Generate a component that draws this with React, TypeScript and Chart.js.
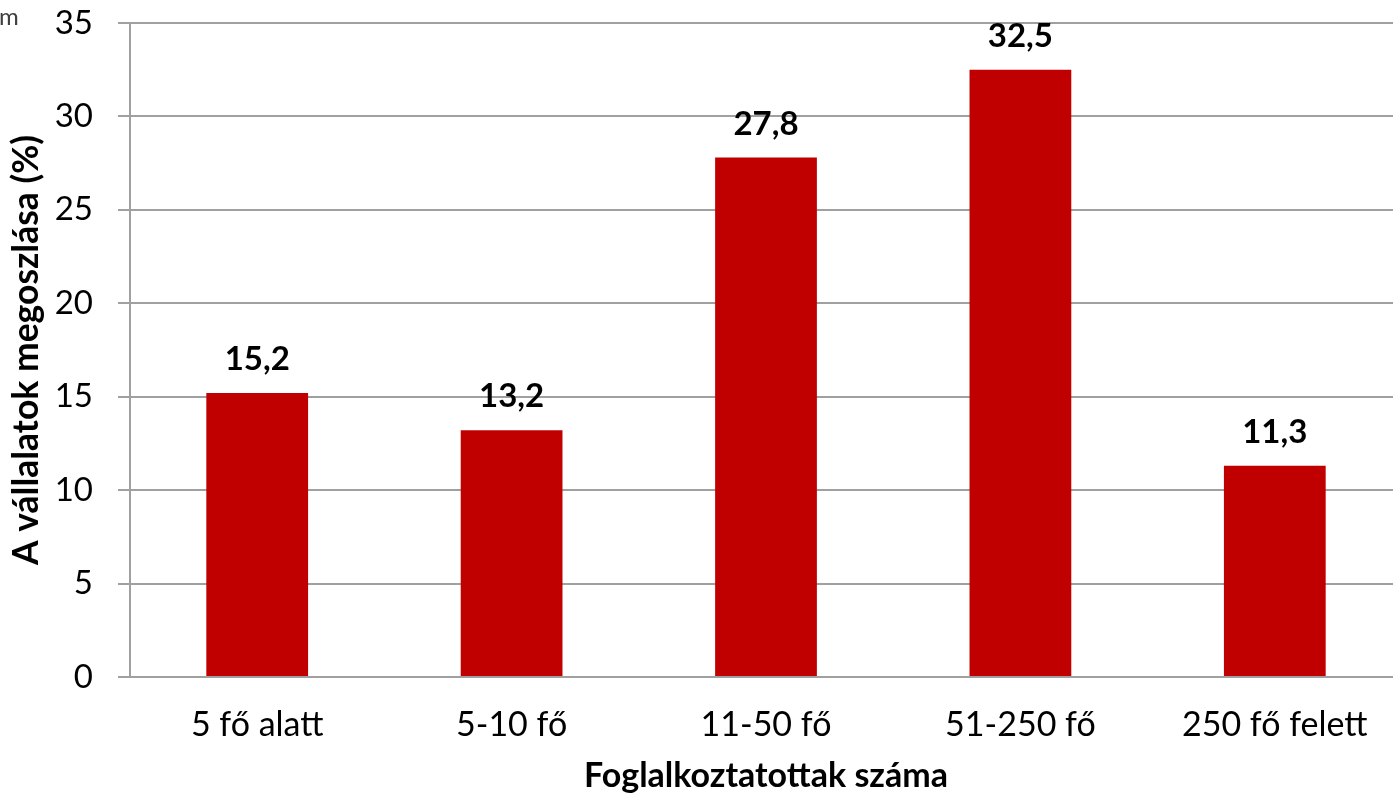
import React, { useEffect, useRef } from 'react';
import { Chart, registerables } from 'chart.js';

Chart.register(...registerables);

const categories = ['5 fő alatt', '5-10 fő', '11-50 fő', '51-250 fő', '250 fő felett'];
const shares = [15.2, 13.2, 27.8, 32.5, 11.3];
const yMin = 0;
const yMax = 35;
const yStep = 5;
const yAxisTitle = 'A vállalatok megoszlása (%)';
const xAxisTitle = 'Foglalkoztatottak száma';
const cornerText = 'm';

const FONT = 'Lato';
const BAR_COLOR = '#C00000';
const GRID_COLOR = '#A0A0A0';

const formatValue = (v: number) => v.toFixed(1).replace('.', ',');

const valueLabelPlugin = {
  id: 'valueLabels',
  afterDatasetsDraw(chart: any) {
    const ctx = chart.ctx;
    const meta = chart.getDatasetMeta(0);
    ctx.save();
    ctx.font = `bold 33px ${FONT}`;
    ctx.fillStyle = '#000000';
    ctx.textAlign = 'center';
    ctx.textBaseline = 'alphabetic';
    meta.data.forEach((bar: any, i: number) => {
      ctx.fillText(formatValue(shares[i]), bar.x, bar.y - 23);
    });
    ctx.restore();
  },
};

export default function App() {
  const canvasRef = useRef<HTMLCanvasElement | null>(null);

  useEffect(() => {
    if (!canvasRef.current) return;
    const chart = new Chart(canvasRef.current, {
      type: 'bar',
      data: {
        labels: categories,
        datasets: [
          {
            data: shares,
            backgroundColor: BAR_COLOR,
            borderWidth: 0,
            barPercentage: 0.4,
            categoryPercentage: 1.0,
          },
        ],
      },
      options: {
        responsive: false,
        animation: false,
        devicePixelRatio: 1,
        layout: { padding: { top: 23, right: 0, bottom: 0, left: 0 } },
        plugins: {
          legend: { display: false },
          tooltip: { enabled: false },
          title: { display: false },
        },
        scales: {
          x: {
            grid: { display: false, drawTicks: false },
            border: { display: true, color: GRID_COLOR, width: 2 },
            ticks: {
              font: { family: FONT, size: 34 },
              color: '#000000',
              padding: 28,
              maxRotation: 0,
              autoSkip: false,
            },
            title: {
              display: true,
              text: xAxisTitle,
              font: { family: FONT, size: 34, weight: 'bold' },
              color: '#000000',
              padding: { top: 0, bottom: 0 },
            },
            afterFit(scale: any) {
              scale.height = 119;
            },
          },
          y: {
            min: yMin,
            max: yMax,
            ticks: {
              stepSize: yStep,
              font: { family: FONT, size: 33 },
              color: '#000000',
              padding: 25,
            },
            grid: { color: GRID_COLOR, lineWidth: 2, tickLength: 12 },
            border: { display: true, color: GRID_COLOR, width: 2 },
            title: {
              display: true,
              text: yAxisTitle,
              font: { family: FONT, size: 35.5, weight: 'bold' },
              color: '#000000',
              padding: { top: 5, bottom: 0 },
            },
            afterFit(scale: any) {
              scale.width = 130;
              scale.paddingTop = 0;
              scale.paddingBottom = 0;
            },
          },
        },
      },
      plugins: [valueLabelPlugin],
    });
    return () => chart.destroy();
  }, []);

  return (
    <div
      style={{
        position: 'fixed',
        left: 0,
        top: 0,
        width: 1393,
        height: 796,
        overflow: 'hidden',
        background: '#ffffff',
      }}
    >
      <canvas
        ref={canvasRef}
        width={1402}
        height={796}
        style={{ position: 'absolute', left: 0, top: 0, width: 1402, height: 796 }}
      />
      <div
        style={{
          position: 'absolute',
          left: -1,
          top: 3,
          fontFamily: FONT,
          fontSize: 24,
          lineHeight: '26px',
          color: '#404040',
        }}
      >
        {cornerText}
      </div>
    </div>
  );
}
